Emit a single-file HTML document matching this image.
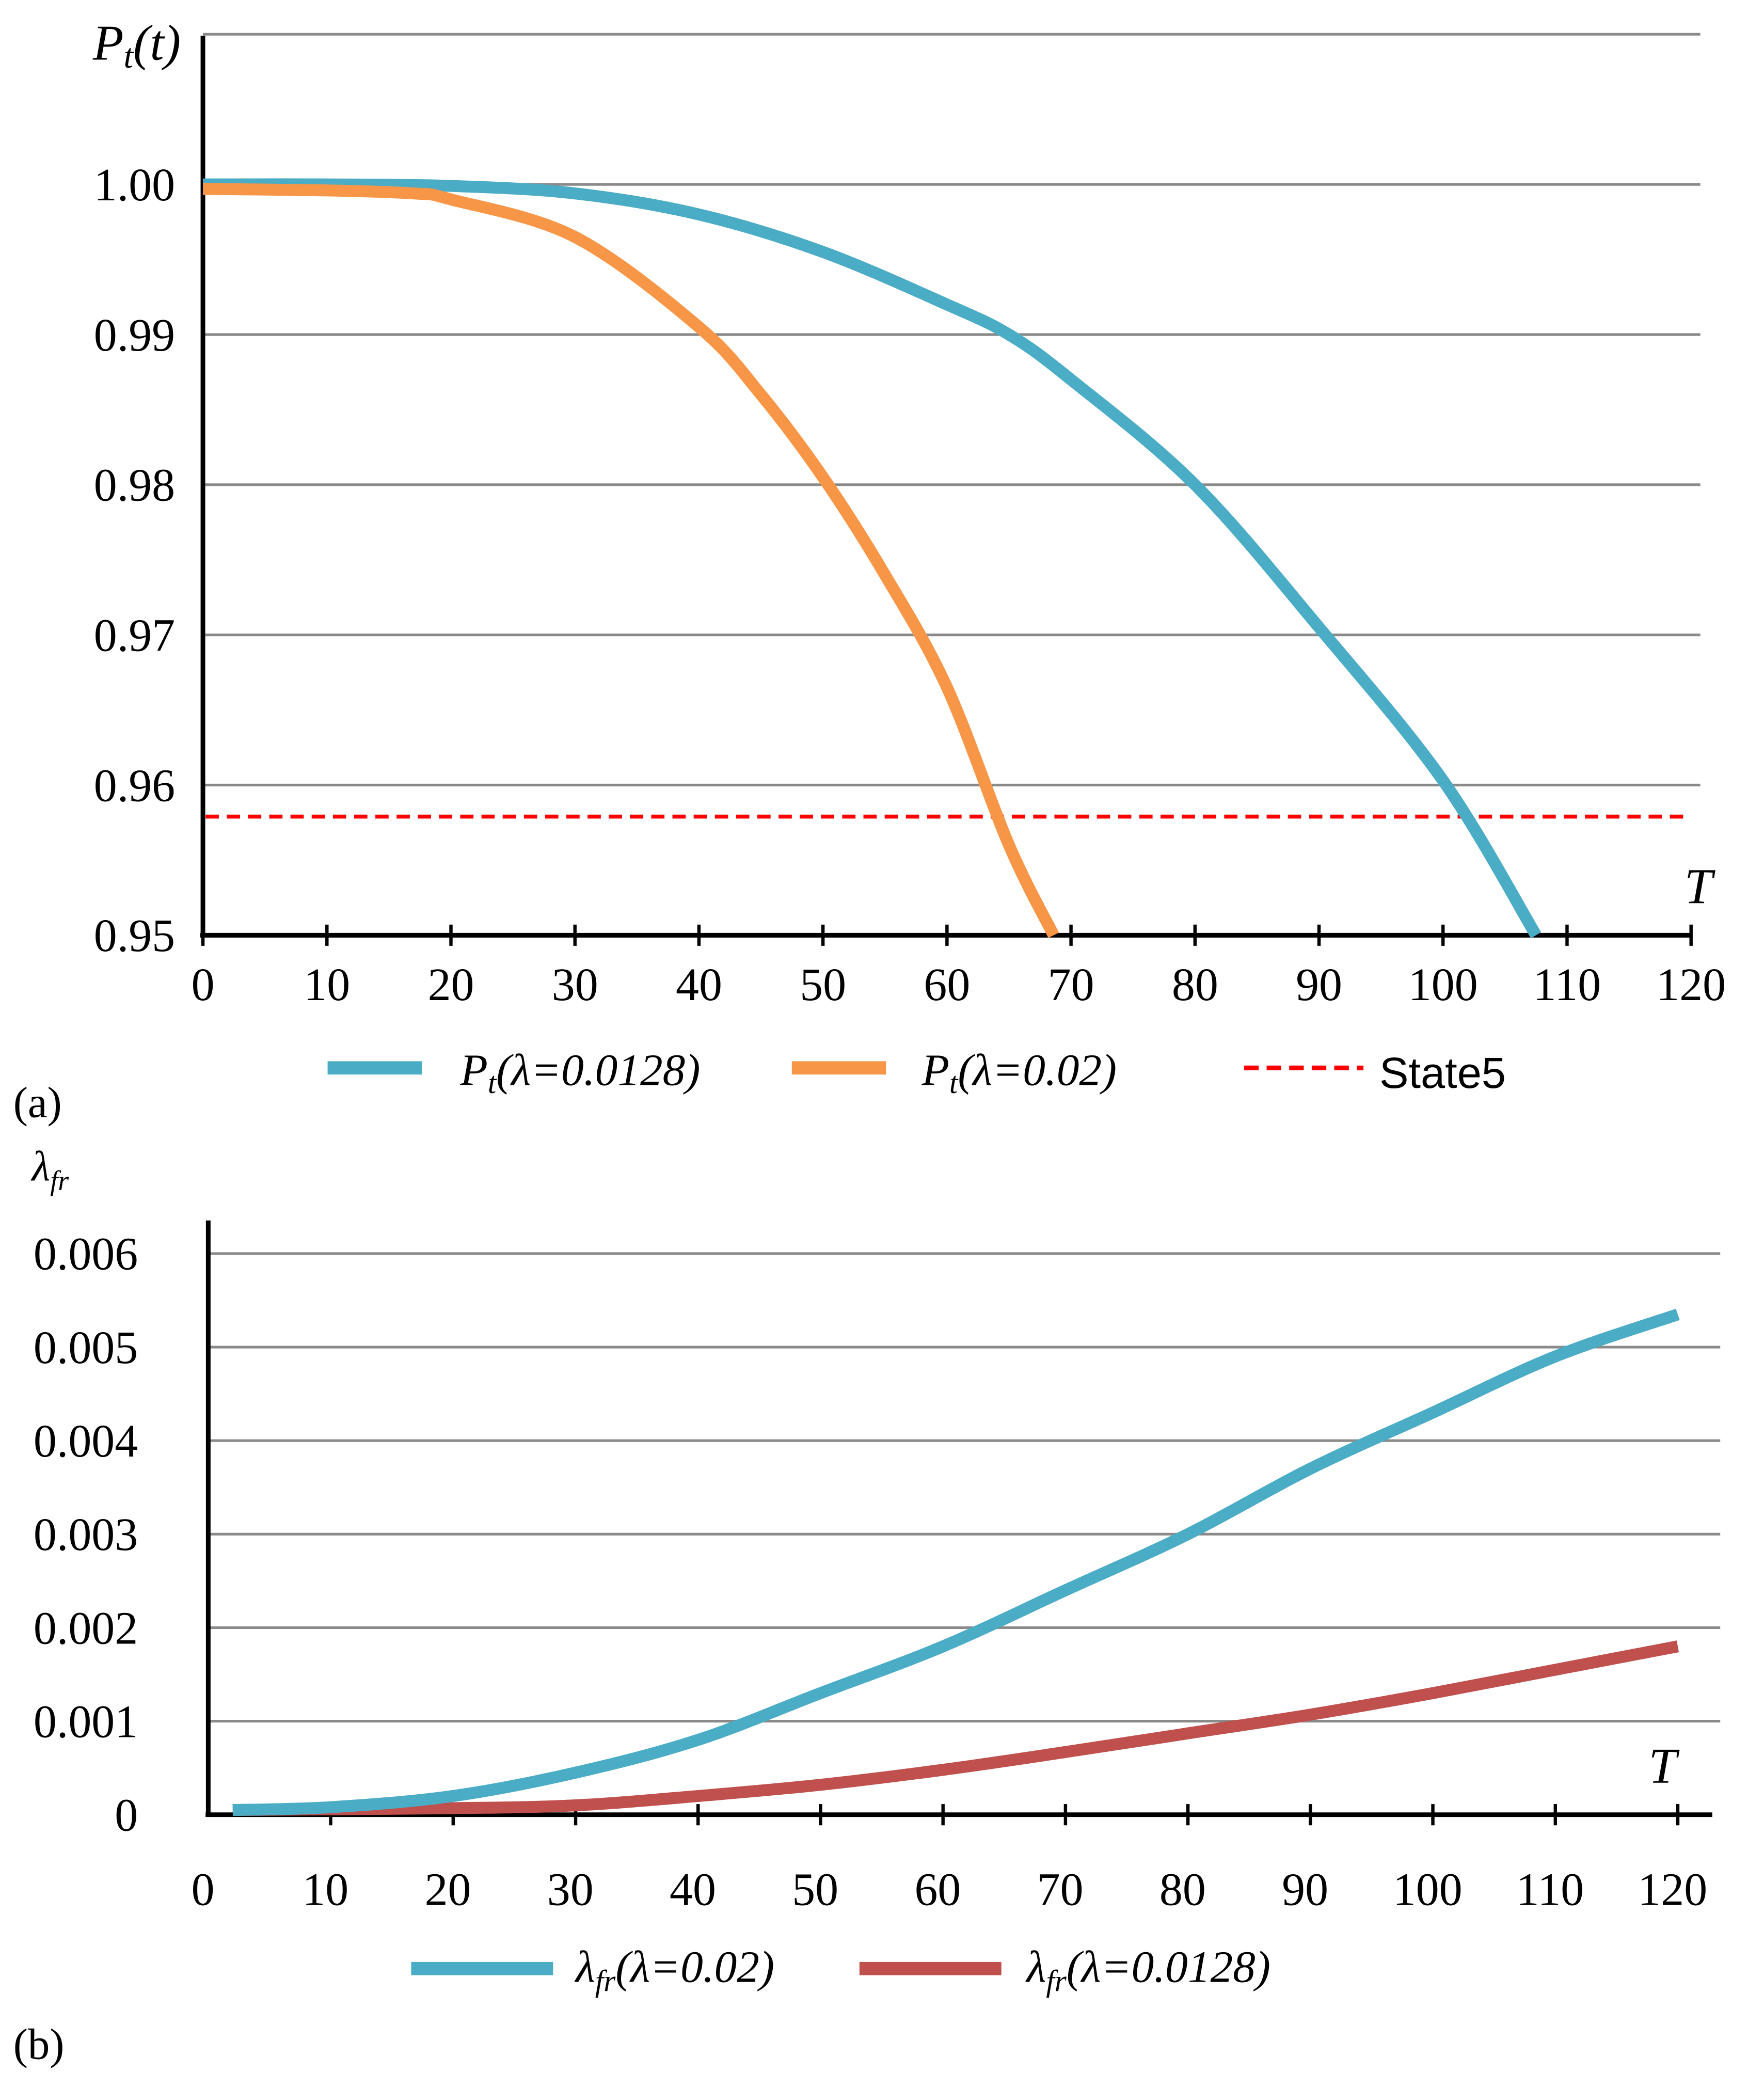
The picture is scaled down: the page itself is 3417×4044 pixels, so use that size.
<!DOCTYPE html>
<html><head><meta charset="utf-8"><style>
html,body{margin:0;padding:0;background:#fff}
svg{display:block}
text{font-family:"Liberation Serif",serif;fill:#000}
</style></head><body>
<svg id="chart" width="3417" height="4044" viewBox="0 0 1330 1574" xmlns="http://www.w3.org/2000/svg">
<g id="ga"></g>
<g id="gb"></g>
</svg>
<script>
// Chart (a)
const aTicksX = [0,10,20,30,40,50,60,70,80,90,100,110,120];
const aTicksY = [0.95,0.96,0.97,0.98,0.99,1.00,1.01];
const aYLabels = ["0.95","0.96","0.97","0.98","0.99","1.00",""];
const aBlueT = [0,10,20,30,40,50,60,65,70,80,90,100,107.5];
const aBlueV = [1.0,1.0,0.9999,0.9994,0.998,0.9955,0.992,0.990,0.987,0.980,0.9705,0.9603,0.95];
const aOrangeT = [0,10,17,20,30,40,45,50,55,60,65,68.6];
const aOrangeV = [0.9997,0.9996,0.9994,0.999,0.9965,0.9905,0.986,0.9805,0.974,0.9665,0.956,0.95];
const aState = 0.9579;
// Chart (b)
const bTicksX = [0,10,20,30,40,50,60,70,80,90,100,110,120];
const bTicksY = [0,0.001,0.002,0.003,0.004,0.005,0.006];
const bYLabels = ["0","0.001","0.002","0.003","0.004","0.005","0.006"];
const bBlueT = [2,10,20,30,40,50,60,70,80,90,100,110,120];
const bBlueV = [0.00005,0.00008,0.0002,0.00045,0.0008,0.0013,0.0018,0.0024,0.003,0.0037,0.0043,0.0049,0.00535];
const bRedT = [2,20,30,40,50,60,70,80,90,100,110,120];
const bRedV = [0.00005,0.00007,0.0001,0.0002,0.00032,0.00048,0.00067,0.00087,0.00107,0.0013,0.00155,0.0018];

const NS="http://www.w3.org/2000/svg";
function mk(parent,tag,attrs,txt){const e=document.createElementNS(NS,tag);for(const k in attrs)e.setAttribute(k,attrs[k]);if(txt!==undefined)e.textContent=txt;parent.appendChild(e);return e;}
function pathFrom(ts,vs,sx,sy){
  const p=ts.map((t,i)=>[sx(t),sy(vs[i])]);
  let d="M"+p[0][0].toFixed(2)+","+p[0][1].toFixed(2);
  for(let i=0;i<p.length-1;i++){
    const p0=p[Math.max(0,i-1)],p1=p[i],p2=p[i+1],p3=p[Math.min(p.length-1,i+2)];
    const c1=[p1[0]+(p2[0]-p0[0])/6,p1[1]+(p2[1]-p0[1])/6];
    const c2=[p2[0]-(p3[0]-p1[0])/6,p2[1]-(p3[1]-p1[1])/6];
    d+="C"+c1.map(v=>v.toFixed(2)).join(",")+" "+c2.map(v=>v.toFixed(2)).join(",")+" "+p2.map(v=>v.toFixed(2)).join(",");
  }
  return d;
}

// ---- A ----
const ga=document.getElementById('ga');
const axA=t=>153+t*(1275-153)/120;
const ayA=v=>705-(v-0.95)*(705-139)/0.05;
aTicksY.forEach((v,i)=>{
  if(v>0.95){const l=mk(ga,'line',{x1:153,x2:1282,y1:ayA(v),y2:ayA(v),stroke:'#8a8a8a','stroke-width':2});
  
  }
  const t=mk(ga,'text',{x:132,y:ayA(v)+12,'font-size':35,'text-anchor':'end'},aYLabels[i]);
  
  
});
aTicksX.forEach(x=>{
  const tk=mk(ga,'line',{x1:axA(x),x2:axA(x),y1:697,y2:713,stroke:'#000','stroke-width':2.5});
  
  
  const t=mk(ga,'text',{x:axA(x),y:754,'font-size':35,'text-anchor':'middle'},String(x));
  
  
});
let e;
e=mk(ga,'line',{x1:153,x2:153,y1:27,y2:706,stroke:'#000','stroke-width':3.5});

e=mk(ga,'line',{x1:151,x2:1276,y1:705,y2:705,stroke:'#000','stroke-width':3.5});

e=mk(ga,'line',{x1:155,x2:1275,y1:ayA(aState),y2:ayA(aState),stroke:'#ff0000','stroke-width':3,'stroke-dasharray':'10,6'});

e=mk(ga,'path',{d:pathFrom(aBlueT,aBlueV,axA,ayA),fill:'none',stroke:'#4bacc6','stroke-width':9,'stroke-linejoin':'round'});

e=mk(ga,'path',{d:pathFrom(aOrangeT,aOrangeV,axA,ayA),fill:'none',stroke:'#f79646','stroke-width':9,'stroke-linejoin':'round'});

e=mk(ga,'text',{x:70,y:45,'font-size':38,'font-style':'italic'});
e.innerHTML='P<tspan font-size="26" dy="6">t</tspan><tspan dy="-6">(t)</tspan>';

e=mk(ga,'text',{x:1270,y:681,'font-size':38,'font-style':'italic'},'T');

// legend a
e=mk(ga,'line',{x1:247,x2:318,y1:805,y2:805,stroke:'#4bacc6','stroke-width':10});

e=mk(ga,'text',{x:347,y:818,'font-size':34,'font-style':'italic'});
e.innerHTML='P<tspan font-size="23" dy="6">t</tspan><tspan dy="-6">(λ=0.0128)</tspan>';

e=mk(ga,'line',{x1:597,x2:668,y1:805,y2:805,stroke:'#f79646','stroke-width':10});

e=mk(ga,'text',{x:695,y:818,'font-size':34,'font-style':'italic'});
e.innerHTML='P<tspan font-size="23" dy="6">t</tspan><tspan dy="-6">(λ=0.02)</tspan>';

e=mk(ga,'line',{x1:938,x2:1028,y1:805,y2:805,stroke:'#ff0000','stroke-width':3.5,'stroke-dasharray':'11,6'});

e=mk(ga,'text',{x:1040,y:820,'font-size':33,style:'font-family:"Liberation Sans",sans-serif'},'State5');

e=mk(ga,'text',{x:10,y:842,'font-size':33},'(a)');


// ---- B ----
const gb=document.getElementById('gb');
const axB=t=>157+t*(1265-157)/120;
const ayB=v=>1368-v*(1368-945)/0.006;
bTicksY.forEach((v,i)=>{
  if(v>0){const l=mk(gb,'line',{x1:157,x2:1297,y1:ayB(v),y2:ayB(v),stroke:'#8a8a8a','stroke-width':2});
  
  }
  const t=mk(gb,'text',{x:104,y:ayB(v)+12,'font-size':35,'text-anchor':'end'},bYLabels[i]);
  
  
});
bTicksX.forEach(x=>{
  if(x>0){const tk=mk(gb,'line',{x1:axB(x),x2:axB(x),y1:1360,y2:1376,stroke:'#000','stroke-width':2.5});
  
  }
  const t=mk(gb,'text',{x:axB(x)-4,y:1436,'font-size':35,'text-anchor':'middle'},String(x));
  
  
});
e=mk(gb,'line',{x1:157,x2:157,y1:920,y2:1369,stroke:'#000','stroke-width':3.5});

e=mk(gb,'line',{x1:155,x2:1291,y1:1368,y2:1368,stroke:'#000','stroke-width':3.5});

e=mk(gb,'path',{d:pathFrom(bRedT,bRedV,axB,ayB),fill:'none',stroke:'#c0504d','stroke-width':9,'stroke-linejoin':'round'});

e=mk(gb,'path',{d:pathFrom(bBlueT,bBlueV,axB,ayB),fill:'none',stroke:'#4bacc6','stroke-width':9,'stroke-linejoin':'round'});

e=mk(gb,'text',{x:24,y:890,'font-size':32,'font-style':'italic'});
e.innerHTML='λ<tspan font-size="21" dy="7">fr</tspan>';

e=mk(gb,'text',{x:1243,y:1344,'font-size':38,'font-style':'italic'},'T');

e=mk(gb,'line',{x1:310,x2:417,y1:1484,y2:1484,stroke:'#4bacc6','stroke-width':10});

e=mk(gb,'text',{x:434,y:1494,'font-size':34,'font-style':'italic'});
e.innerHTML='λ<tspan font-size="23" dy="7">fr</tspan><tspan dy="-7">(λ=0.02)</tspan>';

e=mk(gb,'line',{x1:648,x2:755,y1:1484,y2:1484,stroke:'#c0504d','stroke-width':10});

e=mk(gb,'text',{x:774,y:1494,'font-size':34,'font-style':'italic'});
e.innerHTML='λ<tspan font-size="23" dy="7">fr</tspan><tspan dy="-7">(λ=0.0128)</tspan>';

e=mk(gb,'text',{x:10,y:1552,'font-size':33},'(b)');

</script>
</body></html>
